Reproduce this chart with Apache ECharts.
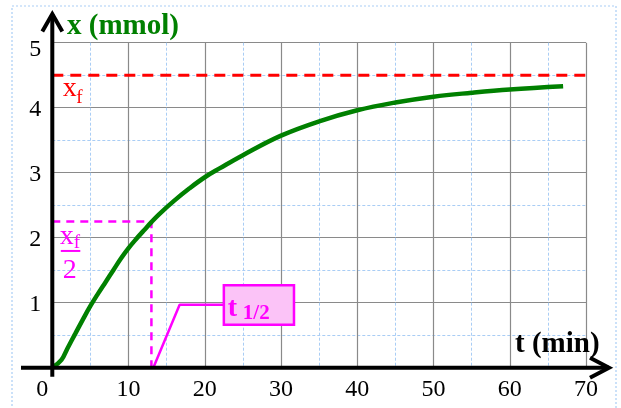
<!DOCTYPE html>
<html><head><meta charset="utf-8">
<script src="https://cdn.jsdelivr.net/npm/echarts@6/dist/echarts.min.js"></script>
<style>html,body{margin:0;padding:0;background:#fff}#c{width:621px;height:408px}</style>
</head><body><div id="c"></div>
<script>
const tVals = [0, 1.2, 2, 3, 4, 5, 6, 7, 8, 9, 10, 11, 12, 13, 14, 16, 18, 20, 22, 25, 30, 35, 40, 45, 50, 55, 60, 67];
const xVals = [0, 0.12, 0.3, 0.52, 0.74, 0.95, 1.14, 1.32, 1.5, 1.68, 1.84, 1.98, 2.11, 2.24, 2.36, 2.57, 2.76, 2.93, 3.07, 3.27, 3.57, 3.79, 3.96, 4.08, 4.17, 4.23, 4.28, 4.33];
const xFinal = 4.5;
const tHalf = 13;
const pointerT = [13.25, 16.7, 22.5];
const pointerX = [0, 0.97, 0.97];
const boxRange = [22.5, 0.66, 31.7, 1.27];
const xTicks = [0, 10, 20, 30, 40, 50, 60, 70];
const yTicks = [0, 1, 2, 3, 4, 5];

const FONT = 'Liberation Serif';
const chart = echarts.init(document.getElementById('c'), null, {renderer: 'canvas'});

const curve = tVals.map((t, i) => [t, xVals[i]]);
const halfLine = [[0, xFinal / 2], [tHalf, xFinal / 2], [tHalf, 0]];
const pointer = pointerT.map((t, i) => [t, pointerX[i]]);

function T(x, y, text, size, color, bold) {
  return {type: 'text', z: 10, style: {x: x, y: y, text: text, fontFamily: FONT, fontSize: size,
    fontWeight: bold ? 'bold' : 'normal', fill: color, verticalAlign: 'middle', align: 'left'}};
}

chart.setOption({
  animation: false,
  grid: {left: 52.3, right: 35, top: 42.7, bottom: 40.3, containLabel: false},
  xAxis: {
    type: 'value', min: xTicks[0], max: xTicks[xTicks.length - 1], interval: 10,
    axisLine: {show: false}, axisTick: {show: false},
    splitLine: {show: true, lineStyle: {color: '#8a8a8a', width: 1.2}},
    minorTick: {show: false, splitNumber: 2},
    minorSplitLine: {show: true, lineStyle: {color: '#a9cdf5', width: 1, type: [3, 2]}},
    axisLabel: {
      fontFamily: FONT, fontSize: 24, color: '#000', margin: 10,
      formatter: v => v === 0 ? '{z|0}' : String(v),
      rich: {z: {fontFamily: FONT, fontSize: 24, color: '#000', padding: [0, 20, 0, 0]}}
    }
  },
  yAxis: {
    type: 'value', min: yTicks[0], max: yTicks[yTicks.length - 1], interval: 1,
    axisLine: {show: false}, axisTick: {show: false},
    splitLine: {show: true, lineStyle: {color: '#8a8a8a', width: 1.2}},
    minorTick: {show: false, splitNumber: 2},
    minorSplitLine: {show: true, lineStyle: {color: '#a9cdf5', width: 1, type: [3, 2]}},
    axisLabel: {
      fontFamily: FONT, fontSize: 24, color: '#000', margin: 11,
      formatter: v => v === 0 ? '' : (v === 5 ? '{h|' + v + '}' : '{n|' + v + '}'),
      rich: {
        n: {fontFamily: FONT, fontSize: 24, color: '#000', padding: [4, 0, 0, 0]},
        h: {fontFamily: FONT, fontSize: 24, color: '#000', padding: [14, 0, 0, 0]}
      }
    }
  },
  series: [
    {type: 'line', data: [[xTicks[0], xFinal], [xTicks[xTicks.length - 1], xFinal]], showSymbol: false,
     lineStyle: {color: '#ff0000', width: 3, type: [11, 7]}, z: 3},
    {type: 'line', data: halfLine, showSymbol: false,
     lineStyle: {color: '#ff00ff', width: 2.5, type: [8, 6]}, z: 3},
    {type: 'line', data: pointer, showSymbol: false,
     lineStyle: {color: '#ff00ff', width: 2.5}, z: 3},
    {type: 'line', data: curve, showSymbol: false, smooth: 0.4,
     lineStyle: {color: '#008000', width: 4.5}, z: 4},
    {type: 'custom', z: 5, data: [boxRange],
     renderItem: (params, api) => {
       const p1 = api.coord([api.value(0), api.value(3)]);
       const p2 = api.coord([api.value(2), api.value(1)]);
       return {type: 'group', children: [
         {type: 'rect', shape: {x: p1[0], y: p1[1], width: p2[0] - p1[0], height: p2[1] - p1[1]},
          style: {fill: '#fbc3f7', stroke: '#ff00ff', lineWidth: 2.5}},
         {type: 'text', style: {x: p1[0] + 4, y: p1[1] + 23.5, text: 't', fontFamily: FONT, fontSize: 28, fontWeight: 'bold', fill: '#ff00ff', verticalAlign: 'middle'}},
         {type: 'text', style: {x: p1[0] + 19, y: p1[1] + 28.5, text: '1/2', fontFamily: FONT, fontSize: 21, fontWeight: 'bold', fill: '#ff00ff', verticalAlign: 'middle'}}
       ]};
     }}
  ]
});

function px(t, x) { return chart.convertToPixel({gridIndex: 0}, [t, x]); }
const o = px(0, 0);
const G = [];
// outer dotted frame
G.push({type: 'rect', shape: {x: 12, y: 6, width: 604, height: 410}, style: {fill: null, stroke: '#a9cdf5', lineWidth: 1.2, lineDash: [2, 2]}, z: 0});
// y axis
G.push({type: 'line', shape: {x1: o[0], y1: o[1] + 9, x2: o[0], y2: 14}, style: {stroke: '#000', lineWidth: 4}, z: 10});
G.push({type: 'polyline', shape: {points: [[o[0] - 10, 31.5], [o[0], 14], [o[0] + 10, 31.5]]}, style: {stroke: '#000', lineWidth: 4, fill: null, lineJoin: 'miter'}, z: 10});
// x axis
G.push({type: 'line', shape: {x1: 21, y1: o[1], x2: 609, y2: o[1]}, style: {stroke: '#000', lineWidth: 4}, z: 10});
G.push({type: 'polyline', shape: {points: [[590, o[1] - 10], [609, o[1]], [590, o[1] + 10]]}, style: {stroke: '#000', lineWidth: 4, fill: null, lineJoin: 'miter'}, z: 10});
// axis titles
G.push(T(67, 26.3, 'x (mmol)', 29, '#008000', true));
G.push(T(515, 344.3, 't (min)', 29, '#000', true));
// x_f label
const pf = px(0, xFinal);
G.push(T(pf[0] + 10.5, pf[1] + 13.3, 'x', 28, '#ff0000', false));
G.push(T(pf[0] + 24, pf[1] + 22.5, 'f', 19, '#ff0000', false));
// x_f / 2 label
const ph = px(0, xFinal / 2);
G.push(T(ph[0] + 7.5, ph[1] + 15.5, 'x', 28, '#ff00ff', false));
G.push(T(ph[0] + 21.5, ph[1] + 21.5, 'f', 19, '#ff00ff', false));
G.push({type: 'line', z: 10, shape: {x1: ph[0] + 8.5, y1: ph[1] + 29.5, x2: ph[0] + 28, y2: ph[1] + 29.5}, style: {stroke: '#ff00ff', lineWidth: 2}});
G.push(T(ph[0] + 10.5, ph[1] + 49.5, '2', 28, '#ff00ff', false));
chart.setOption({graphic: G});
</script>
</body></html>
